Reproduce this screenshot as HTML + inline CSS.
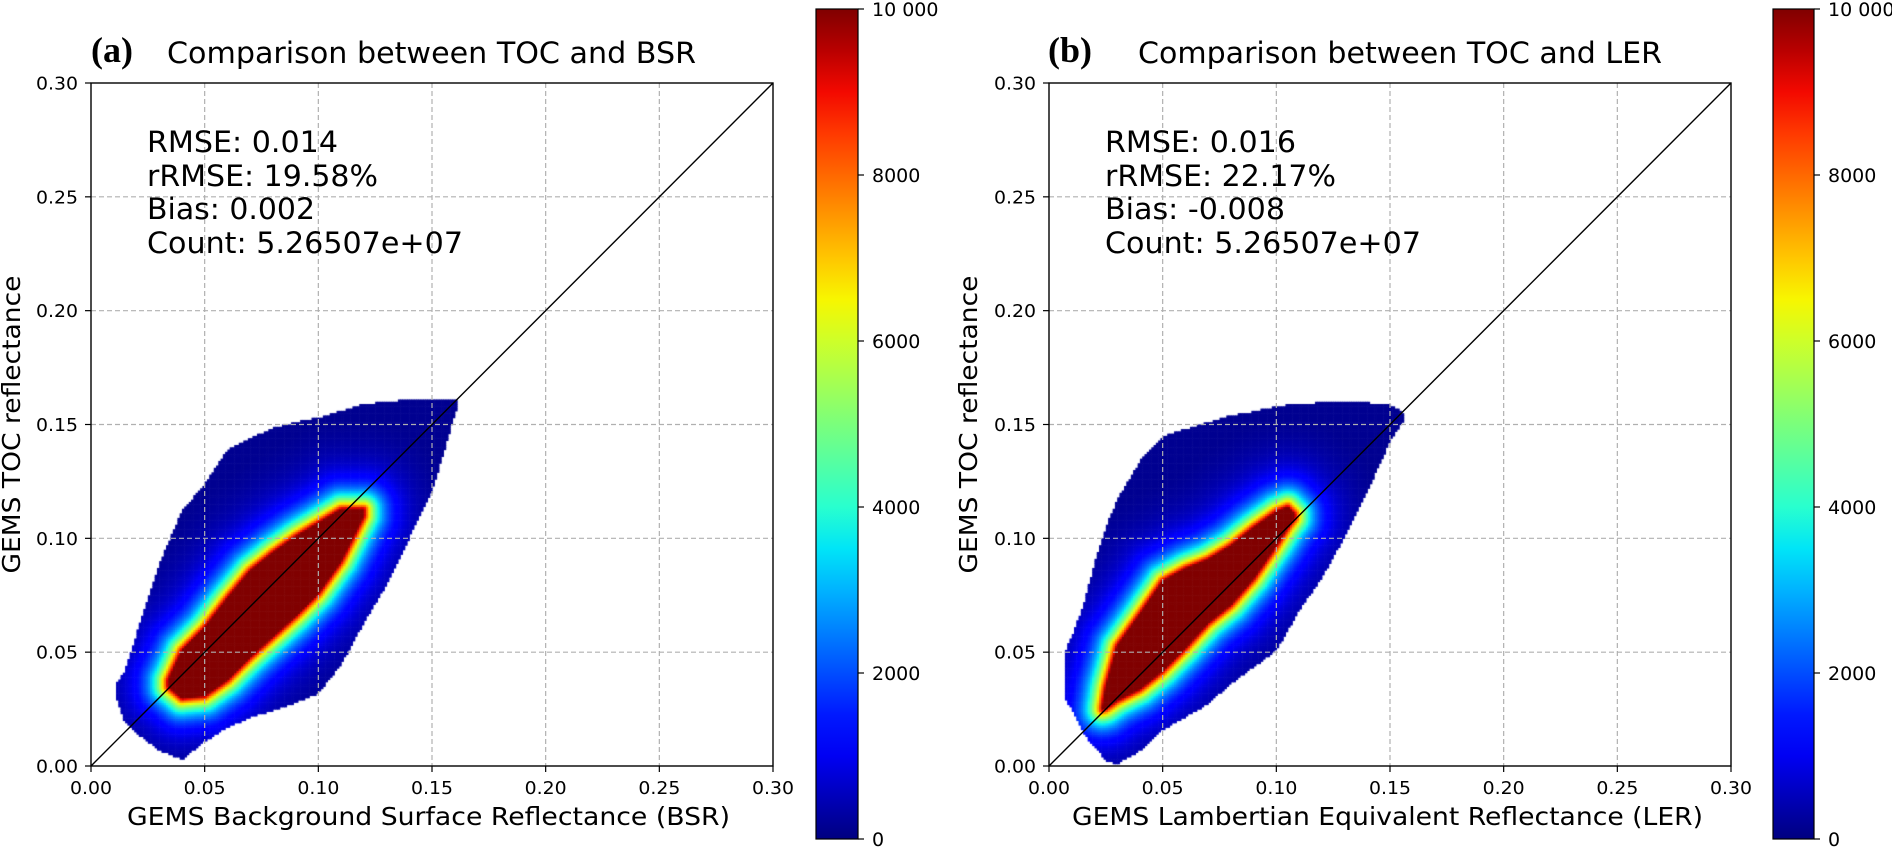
<!DOCTYPE html>
<html><head><meta charset="utf-8">
<style>
html,body{margin:0;padding:0;background:#fff;}
#wrap{position:relative;width:1892px;height:849px;overflow:hidden;font-family:"DejaVu Sans","Liberation Sans",sans-serif;}
canvas{position:absolute;}
svg{position:absolute;left:0;top:0;}
</style></head>
<body>
<div id="wrap">
<canvas id="cA" width="682" height="683" style="left:91px;top:83px"></canvas>
<canvas id="cB" width="682" height="683" style="left:1049px;top:83px"></canvas>
<svg id="svg" width="1892" height="849"></svg>
</div>
<script>
// ---- data (reflectance units) ----
const ticks = [0, 0.05, 0.10, 0.15, 0.20, 0.25, 0.30];
const tickLabels = ["0.00","0.05","0.10","0.15","0.20","0.25","0.30"];
const cbTicks = [0, 2000, 4000, 6000, 8000, 10000];
const cbLabels = ["0","2000","4000","6000","8000","10 000"];

// panel a: envelope of data and red core (count >= 10000)
const envXA = [0.011,0.015,0.02,0.03,0.04,0.05,0.06,0.07,0.08,0.09,0.10,0.11,0.12,0.13,0.14,0.15,0.161];
const envLoA = [0.030,0.019,0.0145,0.007,0.003,0.011,0.017,0.0215,0.0245,0.028,0.032,0.045,0.063,0.080,0.1005,0.121,0.158];
const envHiA = [0.036,0.042,0.058,0.089,0.112,0.124,0.139,0.144,0.1485,0.151,0.153,0.156,0.159,0.160,0.161,0.161,0.161];
const coreXA = [0.034,0.04,0.05,0.06,0.07,0.08,0.09,0.10,0.11,0.12];
const coreLoA = [0.035,0.030,0.031,0.038,0.048,0.057,0.066,0.076,0.090,0.110];
const coreHiA = [0.038,0.051,0.061,0.074,0.086,0.094,0.101,0.107,0.113,0.113];

// panel b
const envXB = [0.007,0.01,0.015,0.02,0.025,0.03,0.04,0.05,0.06,0.07,0.08,0.09,0.10,0.11,0.12,0.13,0.14,0.15,0.156];
const envLoB = [0.030,0.025,0.0145,0.0085,0.0026,0.001,0.007,0.016,0.0217,0.0275,0.0364,0.0436,0.051,0.0685,0.083,0.101,0.121,0.143,0.152];
const envHiB = [0.050,0.057,0.070,0.089,0.105,0.117,0.134,0.145,0.148,0.151,0.154,0.1557,0.158,0.1593,0.1596,0.1596,0.1596,0.1586,0.155];
const coreXB = [0.0235,0.025,0.03,0.04,0.05,0.06,0.07,0.08,0.09,0.10,0.105,0.108];
const coreLoB = [0.025,0.0255,0.029,0.034,0.042,0.052,0.063,0.071,0.0825,0.097,0.105,0.109];
const coreHiB = [0.026,0.035,0.053,0.067,0.0815,0.087,0.091,0.097,0.105,0.112,0.114,0.111];

const VMAX = 10000;
const PLOT = {w:682, h:683, top:83, bottom:766};
const panels = [
  {id:'a', left:91, canvas:'cA', env:[envXA,envLoA,envHiA], core:[coreXA,coreLoA,coreHiA], cbx:816, cbw:42,
   label:'(a)', labelX:91, title:'Comparison between TOC and BSR', titleX:167, titleW:529,
   xlabel:'GEMS Background Surface Reflectance (BSR)', xlabelX:127, xlabelW:603,
   stats:['RMSE: 0.014','rRMSE: 19.58%','Bias: 0.002','Count: 5.26507e+07'], statW:[191,231,168,316], statX:147, ylabelX:20},
  {id:'b', left:1049, canvas:'cB', env:[envXB,envLoB,envHiB], core:[coreXB,coreLoB,coreHiB], cbx:1773, cbw:41,
   label:'(b)', labelX:1048, title:'Comparison between TOC and LER', titleX:1138, titleW:524,
   xlabel:'GEMS Lambertian Equivalent Reflectance (LER)', xlabelX:1072, xlabelW:631,
   stats:['RMSE: 0.016','rRMSE: 22.17%','Bias: -0.008','Count: 5.26507e+07'], statW:[191,231,180,316], statX:1105, ylabelX:977}
];

function xScale(p, v){ return p.left + v/0.30*PLOT.w; }
function yScale(v){ return PLOT.bottom - v/0.30*PLOT.h; }
function cbY(v){ return 839 - v/VMAX*830; }

function interp(xs, ys, x){
  if (x < xs[0] || x > xs[xs.length-1]) return null;
  for (let i=0;i<xs.length-1;i++){
    if (x<=xs[i+1]){ const t=(x-xs[i])/(xs[i+1]-xs[i]); return ys[i]+t*(ys[i+1]-ys[i]); }
  }
  return ys[ys.length-1];
}
function jet(t){
  t=Math.max(0,Math.min(1,t));
  function seg(pts){ for(let i=0;i<pts.length-1;i++){ if(t<=pts[i+1][0]){const u=(t-pts[i][0])/(pts[i+1][0]-pts[i][0]);return pts[i][1]+u*(pts[i+1][1]-pts[i][1]);}} return pts[pts.length-1][1]; }
  const r=seg([[0,0],[0.35,0],[0.66,1],[0.89,1],[1,0.5]]);
  const g=seg([[0,0],[0.125,0],[0.375,1],[0.64,1],[0.91,0],[1,0]]);
  const b=seg([[0,0.5],[0.11,1],[0.34,1],[0.65,0],[1,0]]);
  return 'rgb('+Math.round(r*255)+','+Math.round(g*255)+','+Math.round(b*255)+')';
}

function drawHeat(p){
  const ctx=document.getElementById(p.canvas).getContext('2d');
  const [ex,elo,ehi]=p.env, [cx,clo,chi]=p.core;
  const poly=[];
  const px=v=>v/0.30*PLOT.w, py=v=>PLOT.h - v/0.30*PLOT.h;
  for(let i=0;i<cx.length;i++) poly.push([px(cx[i]),py(chi[i])]);
  for(let i=cx.length-1;i>=0;i--) poly.push([px(cx[i]),py(clo[i])]);
  function dist(x,y){
    let m=1e9;
    for(let i=0;i<poly.length;i++){
      const a=poly[i], b=poly[(i+1)%poly.length];
      const dx=b[0]-a[0], dy=b[1]-a[1]; const L=dx*dx+dy*dy||1;
      let t=((x-a[0])*dx+(y-a[1])*dy)/L; t=Math.max(0,Math.min(1,t));
      const qx=a[0]+t*dx-x, qy=a[1]+t*dy-y; const d=qx*qx+qy*qy; if(d<m)m=d;
    }
    return Math.sqrt(m);
  }
  const bin=0.001, bw=bin/0.30*PLOT.w, bh=bin/0.30*PLOT.h;
  for(let i=0;i<300;i++){
    const x=(i+0.5)*bin;
    const lo=interp(ex,elo,x), hi=interp(ex,ehi,x);
    if(lo===null) continue;
    const cl=interp(cx,clo,x), ch=interp(cx,chi,x);
    for(let j=0;j<300;j++){
      const y=(j+0.5)*bin;
      if(y<lo||y>hi) continue;
      let v;
      if(cl!==null && y>=cl && y<=ch) v=1;
      else { const d=dist(px(x),py(y)); v=Math.max(0.015,0.9*Math.exp(-d/13)+0.1*Math.exp(-d/45)); }
      ctx.fillStyle=jet(v);
      ctx.fillRect(i*bw, PLOT.h-(j+1)*bh, bw+0.6, bh+0.6);
    }
  }
}

const NS='http://www.w3.org/2000/svg';
const svg=document.getElementById('svg');
function el(tag, attrs, parent){
  const e=document.createElementNS(NS,tag);
  for(const k in attrs) e.setAttribute(k,attrs[k]);
  (parent||svg).appendChild(e); return e;
}
function txt(s, attrs, name){
  const t=el('text',attrs); t.textContent=s;
  
  
  return t;
}

const defs=el('defs',{});
const lg=el('linearGradient',{id:'jetg',x1:'0',y1:'1',x2:'0',y2:'0'},defs);
for(let k=0;k<=20;k++){ el('stop',{offset:(k/20),'stop-color':jet(k/20)},lg); }

panels.forEach(p=>{
  drawHeat(p);
  const g=el('g',{});
  
  
  ticks.slice(1,-1).forEach(t=>{
    const gx=el('line',{x1:xScale(p,t),x2:xScale(p,t),y1:PLOT.top,y2:PLOT.bottom,stroke:'#b0b0b0','stroke-width':1.2,'stroke-dasharray':'5,3'},g);
    
    
    const gy=el('line',{x1:p.left,x2:p.left+PLOT.w,y1:yScale(t),y2:yScale(t),stroke:'#b0b0b0','stroke-width':1.2,'stroke-dasharray':'5,3'},g);
    
    
  });
  const d=el('line',{x1:xScale(p,0),y1:yScale(0),x2:xScale(p,0.30),y2:yScale(0.30),stroke:'#000','stroke-width':1.4},g);
  
  
  const fr=el('rect',{x:p.left,y:PLOT.top,width:PLOT.w,height:PLOT.h,fill:'none',stroke:'#000','stroke-width':1.4},g);
  
  
  ticks.forEach((t,i)=>{
    const tx=xScale(p,t), ty=yScale(t);
    el('line',{x1:tx,x2:tx,y1:PLOT.bottom,y2:PLOT.bottom+6,stroke:'#000','stroke-width':1.2},g);
    el('line',{x1:p.left-6,x2:p.left,y1:ty,y2:ty,stroke:'#000','stroke-width':1.2},g);
    txt(tickLabels[i],{x:tx,y:794,'font-size':18,'text-anchor':'middle',textLength:42,lengthAdjust:'spacingAndGlyphs'},'x-tick-label');
    txt(tickLabels[i],{x:p.left-13,y:ty+6.5,'font-size':18,'text-anchor':'end',textLength:42,lengthAdjust:'spacingAndGlyphs'},'y-tick-label');
  });
  txt(p.label,{x:p.labelX,y:62,'font-size':36,'font-weight':'bold','font-family':'Liberation Serif, serif'},'panel-label');
  txt(p.title,{x:p.titleX,y:63,'font-size':29,textLength:p.titleW,lengthAdjust:'spacingAndGlyphs'},'chart-title');
  txt(p.xlabel,{x:p.xlabelX,y:825,'font-size':25,textLength:p.xlabelW,lengthAdjust:'spacingAndGlyphs'},'x-axis-title');
  txt('GEMS TOC reflectance',{x:0,y:0,'font-size':25,'text-anchor':'middle',textLength:298,lengthAdjust:'spacingAndGlyphs',transform:'translate('+p.ylabelX+',424.5) rotate(-90)'},'y-axis-title');
  const base=[152,186,219,253];
  p.stats.forEach((s,i)=>txt(s,{x:p.statX,y:base[i],'font-size':29,textLength:p.statW[i],lengthAdjust:'spacingAndGlyphs'},'stats-text'));
  const cb=el('rect',{x:p.cbx,y:9,width:p.cbw,height:830,fill:'url(#jetg)',stroke:'#000','stroke-width':1.2});
  
  
  cbTicks.forEach((v,i)=>{
    el('line',{x1:p.cbx+p.cbw,x2:p.cbx+p.cbw+6,y1:cbY(v),y2:cbY(v),stroke:'#000','stroke-width':1.2});
    txt(cbLabels[i],{x:p.cbx+p.cbw+14,y:cbY(v)+7,'font-size':19},'colorbar-tick-label');
  });
});
</script>
</body></html>
